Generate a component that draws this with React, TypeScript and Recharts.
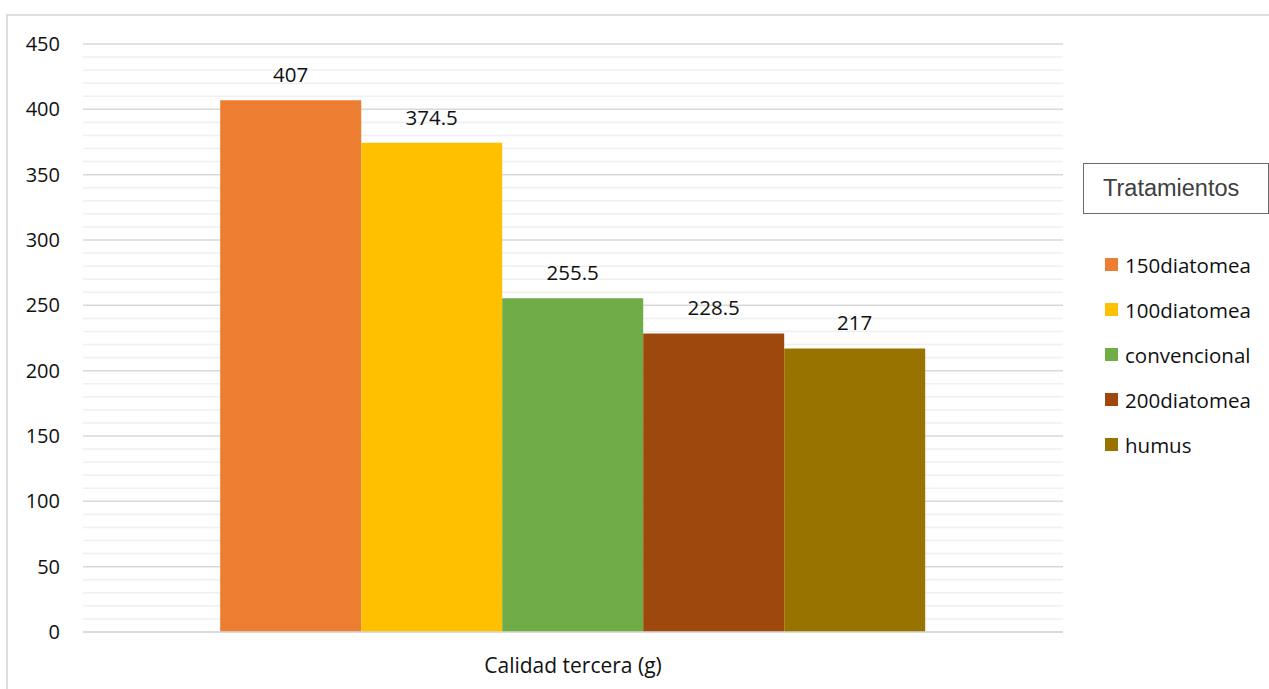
import React from "react";
import { BarChart, Bar, XAxis, YAxis, CartesianGrid, Legend, LabelList } from "recharts";

const categories = ["Calidad tercera (g)"];
const seriesNames = ["150diatomea", "100diatomea", "convencional", "200diatomea", "humus"];
const seriesValues = [407, 374.5, 255.5, 228.5, 217];
const seriesColors = ["#ED7D31", "#FFC000", "#70AD47", "#9E480E", "#997300"];
const yTicks = Array.from({ length: 46 }, (_, i) => i * 10);
const legendTitle = "Tratamientos";

const data = categories.map((c) => {
  const row: Record<string, any> = { name: c };
  seriesNames.forEach((s, i) => (row[s] = seriesValues[i]));
  return row;
});

const FONT = "'Open Sans', 'DejaVu Sans', sans-serif";

const gridLine = (props: any) => {
  const { x1, x2, y1, y2, index } = props;
  const major = index % 5 === 0;
  return (
    <line
      key={`g-${index}`}
      x1={x1}
      x2={x2}
      y1={y1}
      y2={y2}
      stroke={major ? "#d9d9d9" : "#f0f0f0"}
      strokeWidth={1.5}
    />
  );
};

const renderLegend = (props: any) => {
  const payload = [...(props.payload || [])].sort(
    (a: any, b: any) => seriesNames.indexOf(a.value) - seriesNames.indexOf(b.value)
  );
  return (
    <div style={{ fontFamily: FONT }}>
      <div
        style={{
          boxSizing: "border-box",
          height: 51,
          width: 186,
          border: "1px solid #6b6b6b",
          display: "flex",
          alignItems: "center",
          paddingLeft: 19,
          fontFamily: "'Liberation Sans', Arial, sans-serif",
          fontSize: 23.5,
          color: "#404040",
          whiteSpace: "nowrap",
        }}
      >
        {legendTitle}
      </div>
      <div style={{ marginTop: 28 }}>
        {payload.map((p: any, i: number) => (
          <div key={i} style={{ height: 45, display: "flex", alignItems: "center", whiteSpace: "nowrap" }}>
            <span
              style={{
                display: "inline-block",
                width: 13,
                height: 13,
                marginLeft: 22,
                marginRight: 7,
                background: p.color,
              }}
            />
            <span style={{ fontSize: 20.5, color: "#111" }}>{p.value}</span>
          </div>
        ))}
      </div>
    </div>
  );
};

export default function App() {
  return (
    <div style={{ position: "absolute", left: 0, top: 0, width: 1269, height: 689, overflow: "hidden", background: "#fff" }}>
      <div
        style={{
          position: "absolute",
          left: 6,
          top: 14,
          width: 1300,
          height: 720,
          border: "2px solid #dedede",
          boxSizing: "border-box",
        }}
      />
      <div style={{ position: "absolute", left: 0, top: 0 }}>
        <BarChart
          width={1269}
          height={689}
          data={data}
          margin={{ top: 44, right: 206, bottom: 27, left: 0 }}
          barGap={0}
          barCategoryGap="14%"
        >
          <CartesianGrid vertical={false} horizontal={gridLine} />
          <XAxis
            dataKey="name"
            height={30}
            axisLine={{ stroke: "#d9d9d9", strokeWidth: 1.5 }}
            tickLine={false}
            tickSize={0}
            tickMargin={26}
            tick={{ fontFamily: FONT, fontSize: 21, fill: "#111" }}
          />
          <YAxis
            width={83}
            domain={[0, 450]}
            ticks={yTicks}
            interval={0}
            axisLine={false}
            tickLine={false}
            tickSize={0}
            tickMargin={23}
            tickFormatter={(v: number) => (v % 50 === 0 ? String(v) : "")}
            tick={{ fontFamily: FONT, fontSize: 20, fill: "#111" }}
          />
          <Legend
            layout="horizontal"
            verticalAlign="middle"
            align="center"
            width={186}
            itemSorter={null as any}
            wrapperStyle={{ left: 1083, top: 163, width: 186 }}
            content={renderLegend}
          />
          {seriesNames.map((s, i) => (
            <Bar key={s} dataKey={s} fill={seriesColors[i]} isAnimationActive={false}>
              <LabelList
                dataKey={s}
                position="top"
                offset={18}
                style={{ fontFamily: FONT, fontSize: 20.5, fill: "#111" }}
              />
            </Bar>
          ))}
        </BarChart>
      </div>
    </div>
  );
}
